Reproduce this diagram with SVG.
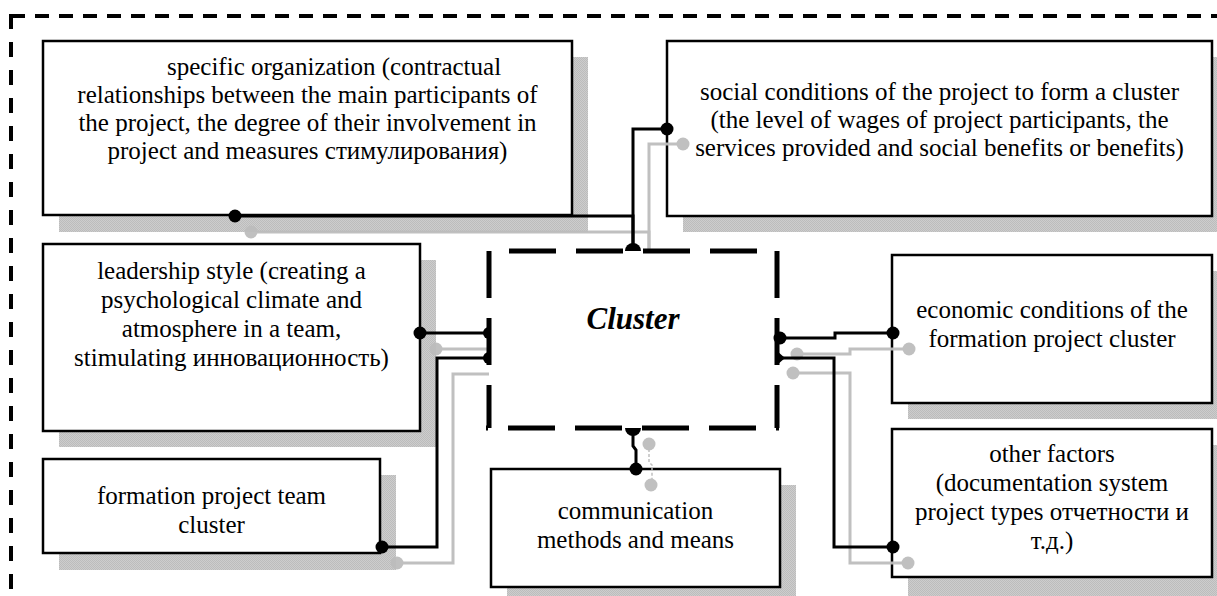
<svg xmlns="http://www.w3.org/2000/svg" width="1217" height="596" viewBox="0 0 1217 596">
<defs>
<pattern id="dither" width="2" height="2" patternUnits="userSpaceOnUse"><rect width="2" height="2" fill="#cdcdcd"/><rect width="1" height="1" fill="#bcbcbc"/><rect x="1" y="1" width="1" height="1" fill="#bcbcbc"/></pattern>
</defs>
<style>
.shadow{fill:url(#dither);stroke:none}
.box{fill:#fff;stroke:#000;stroke-width:2.5}
.c{text-anchor:middle}
.blk{fill:none;stroke:#000;stroke-width:3}
.gry{fill:none;stroke:#bdbdbd;stroke-width:3}
.dot{fill:#000}
.gdot{fill:#bdbdbd}
.outer{fill:none;stroke:#000;stroke-width:4}
.cl{fill:none;stroke:#000;stroke-width:5;stroke-dasharray:47 20}
</style>
<rect width="1217" height="596" fill="#fff"/>
<g id="frame">
<line class="outer" x1="11" y1="16" x2="1217" y2="16" stroke-dasharray="14 10"/>
<line class="outer" x1="11" y1="14" x2="11" y2="596" stroke-dasharray="15 13"/>
</g>
<g id="shadows">
<rect class="shadow" x="59" y="57" width="529" height="175"/>
<rect class="shadow" x="683" y="57" width="545" height="175"/>
<rect class="shadow" x="59" y="260" width="377" height="187"/>
<rect class="shadow" x="908" y="271" width="320" height="148"/>
<rect class="shadow" x="59" y="475" width="337" height="95"/>
<rect class="shadow" x="507" y="485" width="289" height="118"/>
<rect class="shadow" x="908" y="445" width="320" height="160"/>
</g>
<g font-family="Liberation Serif, Times New Roman, serif" font-size="25" fill="#000">
<g id="node-organization">
<rect class="box" x="43" y="41" width="529" height="174"/>
<text x="167" y="75">specific organization (contractual</text>
<text class="c" x="307.5" y="103">relationships between the main participants of</text>
<text class="c" x="307.5" y="131">the project, the degree of their involvement in</text>
<text class="c" x="307.5" y="159">project and measures стимулирования)</text>
</g>
<g id="node-social">
<rect class="box" x="667" y="41" width="545" height="175"/>
<text class="c" x="939.5" y="100">social conditions of the project to form a cluster</text>
<text class="c" x="939.5" y="128">(the level of wages of project participants, the</text>
<text class="c" x="939.5" y="156">services provided and social benefits or benefits)</text>
</g>
<g id="node-leadership">
<rect class="box" x="43" y="244" width="377" height="187"/>
<text class="c" x="231.5" y="279">leadership style (creating a</text>
<text class="c" x="231.5" y="308">psychological climate and</text>
<text class="c" x="231.5" y="337">atmosphere in a team,</text>
<text class="c" x="231.5" y="366">stimulating инновационность)</text>
</g>
<g id="node-economic">
<rect class="box" x="892" y="255" width="320" height="148"/>
<text class="c" x="1052" y="318">economic conditions of the</text>
<text class="c" x="1052" y="347">formation project cluster</text>
</g>
<g id="node-team">
<rect class="box" x="43" y="459" width="337" height="94"/>
<text class="c" x="211.5" y="504">formation project team</text>
<text class="c" x="211.5" y="533">cluster</text>
</g>
<g id="node-communication">
<rect class="box" x="491" y="469" width="289" height="118"/>
<text class="c" x="635.5" y="519">communication</text>
<text class="c" x="635.5" y="548">methods and means</text>
</g>
<g id="node-other">
<rect class="box" x="892" y="429" width="320" height="148"/>
<text class="c" x="1052" y="462">other factors</text>
<text class="c" x="1052" y="491">(documentation system</text>
<text class="c" x="1052" y="520">project types отчетности и</text>
<text class="c" x="1052" y="549">т.д.)</text>
</g>
</g>
<g id="connectors-shadow" opacity="0.95">
<path class="gry" d="M251,232 H649 V260"/>
<path class="gry" d="M683,144 H649 V260"/>
<path class="gry" d="M436,349 H495"/>
<path class="gry" d="M397,563 H453 V374 H495"/>
<path class="gry" d="M797,354 H850 V349 H909"/>
<path class="gry" d="M793,373 H850 V563 H908"/>
<path d="M649,444 V462 L652,465 V485" fill="none" stroke="#bdbdbd" stroke-width="1.5" stroke-dasharray="3 2"/>
<circle class="gdot" cx="251" cy="232" r="6.5"/>
<circle class="gdot" cx="683" cy="144" r="6.5"/>
<circle class="gdot" cx="436" cy="349" r="6.5"/>
<circle class="gdot" cx="397" cy="563" r="6.5"/>
<circle class="gdot" cx="797" cy="354" r="6.5"/>
<circle class="gdot" cx="909" cy="349" r="6.5"/>
<circle class="gdot" cx="793" cy="373" r="6.5"/>
<circle class="gdot" cx="908" cy="563" r="6.5"/>
<circle class="gdot" cx="649" cy="444" r="6.5"/>
<circle class="gdot" cx="651" cy="485" r="6.5"/>
</g>
<g id="node-cluster">
<rect x="489" y="251" width="288" height="177" fill="#fff"/>
<line class="cl" x1="489" y1="251" x2="489" y2="428"/>
<line class="cl" x1="777" y1="251" x2="777" y2="428"/>
<line class="cl" x1="489" y1="251" x2="777" y2="251" stroke-dashoffset="47"/>
<line class="cl" x1="486" y1="428" x2="779" y2="428" stroke-dashoffset="45"/>
<text x="633" y="329" text-anchor="middle" font-family="Liberation Serif, Times New Roman, serif" font-size="31" font-weight="bold" font-style="italic">Cluster</text>
</g>
<g id="connectors">
<path class="blk" d="M235,216 H633 V251"/>
<path class="blk" d="M667,129 H633 V251"/>
<path class="blk" d="M420,333 H489"/>
<path class="blk" d="M382,547 H437 V358 H489"/>
<path class="blk" d="M779,338 H835 V333 H893"/>
<path class="blk" d="M779,358 H834 V547 H893"/>
<path class="blk" d="M633,428 V446 L636,450 V469"/>
<circle class="dot" cx="235" cy="216" r="6.5"/>
<circle class="dot" cx="667" cy="129" r="6.5"/>
<circle class="dot" cx="420" cy="333" r="6.5"/>
<circle class="dot" cx="382" cy="547" r="6.5"/>
<circle class="dot" cx="893" cy="333" r="6.5"/>
<circle class="dot" cx="893" cy="547" r="6.5"/>
<circle class="dot" cx="636" cy="469" r="6.5"/>
<path class="dot" d="M625,251 A8,8 0 0 1 641,251 Z"/>
<path class="dot" d="M625,428 A8,8 0 0 0 641,428 Z"/>
<path class="dot" d="M489,327 A6,6 0 0 0 489,339 Z"/>
<path class="dot" d="M489,352 A6,6 0 0 0 489,364 Z"/>
<circle class="dot" cx="780" cy="338" r="6.5"/>
<path class="dot" d="M777,351 L785,358 L777,365 Z"/>
</g>
</svg>
